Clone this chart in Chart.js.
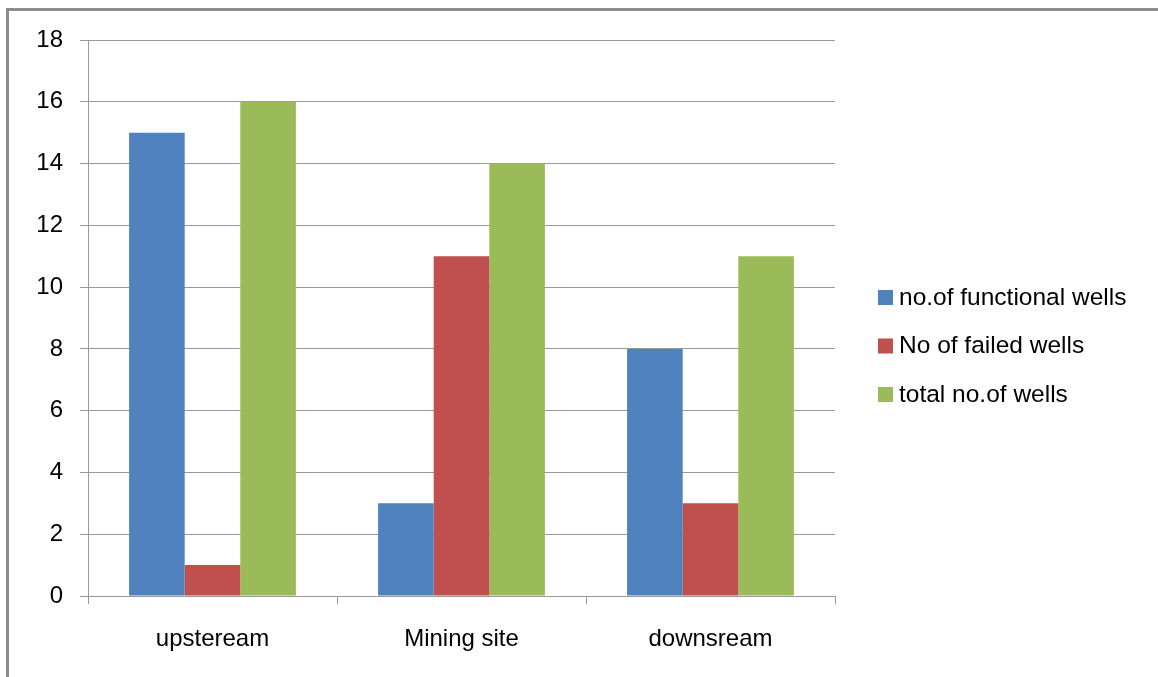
<!DOCTYPE html>
<html>
<head>
  <style>
    body {
      margin: 0;
      background-color: #ffffff;
      font-family: "Liberation Sans", Arial, sans-serif;
    }
    #frame {
      position: absolute;
      left: 6px;
      top: 8px;
      width: 1160px;
      height: 680px;
      border-left: 3px solid #8c8c8c;
      border-top: 3px solid #8c8c8c;
    }
    #myChart {
      position: absolute;
      left: 0;
      top: 0;
    }
  </style>
  <script src="https://cdn.jsdelivr.net/npm/chart.js"></script>
</head>
<body>
  <div id="frame"></div>
  <canvas id="myChart" width="1158" height="677"></canvas>
  <script>
    // chart data
    const categories = ['upsteream', 'Mining site', 'downsream'];
    const functionalWells = [15, 3, 8];
    const failedWells = [1, 11, 3];
    const totalWells = [16, 14, 11];
    const seriesNames = ['no.of functional wells', 'No of failed wells', 'total no.of wells'];
    const seriesColors = ['#4F81BD', '#C0504D', '#9BBB59'];
    const yTicks = [0, 2, 4, 6, 8, 10, 12, 14, 16, 18];

    const fontFamily = '"Liberation Sans", Arial, sans-serif';
    const gridColor = '#999999';

    // legend drawn by hand so it sits where the original one is
    const sideLegend = {
      id: 'sideLegend',
      afterDraw(chart) {
        const ctx = chart.ctx;
        ctx.save();
        ctx.font = '24.5px ' + fontFamily;
        ctx.textBaseline = 'middle';
        chart.data.datasets.forEach((ds, i) => {
          const y = 297 + i * 48.5;
          ctx.fillStyle = ds.backgroundColor;
          ctx.fillRect(878, y - 7, 15, 15);
          ctx.fillStyle = '#000';
          ctx.fillText(ds.label, 899, y + 1);
        });
        ctx.restore();
      }
    };

    const datasets = [functionalWells, failedWells, totalWells].map((vals, i) => ({
      label: seriesNames[i],
      data: vals,
      backgroundColor: seriesColors[i],
      borderWidth: 0,
      categoryPercentage: 0.67,
      barPercentage: 1.0
    }));

    new Chart(document.getElementById('myChart').getContext('2d'), {
      type: 'bar',
      data: { labels: categories, datasets: datasets },
      options: {
        responsive: false,
        animation: false,
        layout: { padding: { left: 0, right: 323, top: 40, bottom: 0 } },
        plugins: {
          legend: { display: false },
          tooltip: { enabled: false }
        },
        scales: {
          x: {
            offset: true,
            grid: {
              offset: true,
              drawOnChartArea: false,
              drawTicks: true,
              tickLength: 8,
              color: gridColor
            },
            border: { color: gridColor, width: 1 },
            ticks: {
              color: '#000',
              padding: 21,
              font: { family: fontFamily, size: 24 }
            },
            afterFit(scale) { scale.height = 81; }
          },
          y: {
            min: 0,
            max: 18,
            afterBuildTicks(scale) { scale.ticks = yTicks.map(v => ({ value: v })); },
            grid: {
              color: gridColor,
              tickLength: 8
            },
            border: { color: gridColor, width: 1 },
            ticks: {
              color: '#000',
              padding: 17,
              font: { family: fontFamily, size: 24 }
            },
            afterFit(scale) { scale.width = 88; }
          }
        }
      },
      plugins: [sideLegend]
    });
  </script>
</body>
</html>
